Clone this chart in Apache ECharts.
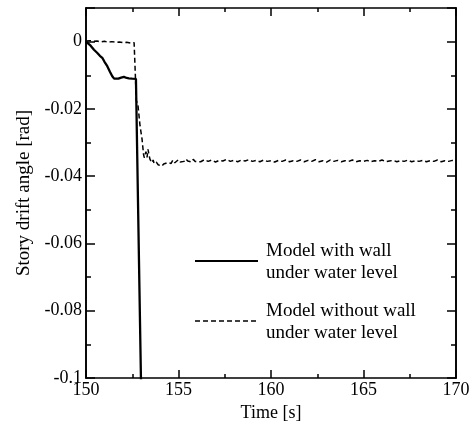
<!DOCTYPE html>
<html>
<head>
<meta charset="utf-8">
<script src="https://cdn.jsdelivr.net/npm/echarts@6/dist/echarts.min.js"></script>
<style>
html,body{margin:0;padding:0;background:#fff;}
#chart{width:476px;height:424px;}
</style>
</head>
<body>
<div id="chart"></div>
<script>
// ---- Data ----
var xTicks = [150, 155, 160, 165, 170];
var yTicks = [-0.1, -0.08, -0.06, -0.04, -0.02, 0];

// Model with wall under water level (solid)
var withWallTime  = [150.0, 150.1, 150.25, 150.43, 150.6, 150.75, 150.88, 151.0, 151.15, 151.3, 151.42, 151.52, 151.61, 151.75, 151.9, 152.05, 152.2, 152.32, 152.5, 152.7, 152.97, 152.99];
var withWallAngle = [0, -0.0003, -0.0012, -0.0024, -0.0033, -0.0042, -0.0048, -0.0060, -0.0073, -0.0090, -0.0103, -0.0110, -0.0112, -0.0110, -0.0107, -0.0105, -0.0108, -0.0109, -0.0110, -0.0111, -0.1, -0.104];

// Model without wall under water level (dashed)
var withoutWallTime = [
 150.0, 150.2, 150.4, 150.6, 150.8, 151.0, 151.2, 151.4, 151.6, 151.8, 152.0, 152.2, 152.4, 152.6, 152.7,
 152.72, 152.81, 152.92, 153.03, 153.11, 153.15, 153.19, 153.24, 153.30, 153.35, 153.41, 153.46, 153.52, 153.57, 153.63, 153.68,
 153.8, 153.9, 154.0, 154.1, 154.2, 154.3, 154.4, 154.5, 154.6, 154.7, 154.8, 154.9, 155.0, 155.1, 155.2, 155.3, 155.4, 155.5, 155.6, 155.7, 155.8, 155.9, 156.0,
 156.2, 156.4, 156.6, 156.8, 157.0, 157.2, 157.4, 157.6, 157.8, 158.0, 158.2, 158.4, 158.6, 158.8, 159.0, 159.2, 159.4, 159.6, 159.8, 160.0,
 160.2, 160.4, 160.6, 160.8, 161.0, 161.2, 161.4, 161.6, 161.8, 162.0, 162.2, 162.4, 162.6, 162.8, 163.0, 163.2, 163.4, 163.6, 163.8, 164.0,
 164.2, 164.4, 164.6, 164.8, 165.0, 165.2, 165.4, 165.6, 165.8, 166.0, 166.2, 166.4, 166.6, 166.8, 167.0, 167.2, 167.4, 167.6, 167.8, 168.0,
 168.2, 168.4, 168.6, 168.8, 169.0, 169.2, 169.4, 169.6, 169.8, 170.0
];
var withoutWallAngle = [
 0.0002, 0.0003, 0.0001, 0.0002, -0.0001, 0.0001, -0.0002, 0.0000, -0.0002, -0.0001, -0.0003, -0.0002, -0.0004, -0.0003, -0.0005,
 -0.0175, -0.0190, -0.0250, -0.0290, -0.0335, -0.0345, -0.0350, -0.0327, -0.0344, -0.0320, -0.0338, -0.0350, -0.0345, -0.0360, -0.0352, -0.0362,
 -0.0358, -0.0366, -0.0362, -0.0370, -0.0364, -0.0368, -0.0360, -0.0355, -0.0362, -0.0352, -0.0360, -0.0357, -0.0351, -0.0358, -0.0353, -0.0356, -0.0349, -0.0355, -0.0352, -0.0358, -0.0350, -0.0356, -0.0353,
 -0.0357, -0.0351, -0.0356, -0.0352, -0.0358, -0.0353, -0.0355, -0.0350, -0.0356, -0.0353, -0.0357, -0.0352, -0.0355, -0.0351, -0.0356, -0.0353, -0.0357, -0.0352, -0.0356, -0.0354,
 -0.0358, -0.0353, -0.0356, -0.0352, -0.0357, -0.0354, -0.0356, -0.0352, -0.0357, -0.0353, -0.0356, -0.0351, -0.0357, -0.0354, -0.0358, -0.0352, -0.0356, -0.0353, -0.0357, -0.0354,
 -0.0356, -0.0352, -0.0357, -0.0354, -0.0356, -0.0353, -0.0357, -0.0354, -0.0356, -0.0352, -0.0357, -0.0355, -0.0353, -0.0357, -0.0354, -0.0356, -0.0352, -0.0357, -0.0354, -0.0356,
 -0.0353, -0.0357, -0.0354, -0.0356, -0.0352, -0.0357, -0.0354, -0.0356, -0.0353, -0.0356
];

var legendNames = ['Model with wall\nunder water level', 'Model without wall\nunder water level'];
var xName = 'Time [s]';
var yName = 'Story drift angle [rad]';

// ---- Build ----
function pairs(t, v) { return t.map(function (x, i) { return [x, v[i]]; }); }

var FONT = 'Liberation Serif';
var chart = echarts.init(document.getElementById('chart'), null, { renderer: 'canvas' });

function xAx(pos, showLabel) {
  return {
    type: 'value', position: pos, min: xTicks[0], max: xTicks[xTicks.length - 1],
    interval: xTicks[1] - xTicks[0],
    axisLine: { show: true, onZero: false, lineStyle: { color: '#000', width: 1.6 } },
    axisTick: { show: true, inside: true, length: 8, lineStyle: { color: '#000', width: 1.5 } },
    minorTick: { show: true, splitNumber: 2, length: 4, lineStyle: { color: '#000', width: 1.5 } },
    splitLine: { show: false },
    axisLabel: { show: showLabel, color: '#000', fontFamily: FONT, fontSize: 18, margin: 3 },
    name: showLabel ? xName : '', nameLocation: 'middle', nameGap: 24,
    nameTextStyle: { color: '#000', fontFamily: FONT, fontSize: 18 }
  };
}
function yAx(pos, step, len, showLabel) {
  return {
    type: 'value', position: pos, min: yTicks[0], max: 0.01, interval: step,
    axisLine: { show: true, onZero: false, lineStyle: { color: '#000', width: 1.6 } },
    axisTick: { show: true, inside: true, length: len, lineStyle: { color: '#000', width: 1.5 } },
    splitLine: { show: false },
    axisLabel: {
      show: showLabel, color: '#000', fontFamily: FONT, fontSize: 18, margin: 4,
      formatter: function (v) {
        if (v > 0.005) return '';
        if (Math.abs(v) < 1e-9) return '0';
        return String(Number(v.toFixed(2)));
      }
    },
    name: showLabel ? yName : '', nameLocation: 'middle', nameGap: 51, nameRotate: 90,
    nameTextStyle: { color: '#000', fontFamily: FONT, fontSize: 19 }
  };
}

var option = {
  animation: false,
  backgroundColor: '#fff',
  grid: { left: 86, right: 20, top: 8, bottom: 46, containLabel: false, outerBoundsMode: 'none' },
  xAxis: [xAx('bottom', true), xAx('top', false)],
  yAxis: [
    yAx('left', 0.02, 9, true),
    yAx('left', 0.01, 5, false),
    yAx('right', 0.02, 9, false),
    yAx('right', 0.01, 5, false)
  ],
  series: [
    {
      name: legendNames[0], type: 'line', xAxisIndex: 0, yAxisIndex: 0,
      data: pairs(withWallTime, withWallAngle), showSymbol: false, symbol: 'none', clip: true,
      lineStyle: { color: '#000', width: 2.3 }
    },
    {
      name: legendNames[1], type: 'line', xAxisIndex: 0, yAxisIndex: 0,
      data: pairs(withoutWallTime, withoutWallAngle), showSymbol: false, symbol: 'none', clip: true,
      lineStyle: { color: '#000', width: 1.5, type: [5, 3] }
    }
  ],
  graphic: [
    { type: 'line', shape: { x1: 195, y1: 261, x2: 258, y2: 261 }, style: { stroke: '#000', lineWidth: 2 } },
    { type: 'text', left: 266, top: 240, style: { text: legendNames[0], fill: '#000', font: '19px "Liberation Serif"', lineHeight: 22 } },
    { type: 'line', shape: { x1: 195, y1: 321, x2: 258, y2: 321 }, style: { stroke: '#000', lineWidth: 1.3, lineDash: [5, 3] } },
    { type: 'text', left: 266, top: 300, style: { text: legendNames[1], fill: '#000', font: '19px "Liberation Serif"', lineHeight: 22 } }
  ]
};
chart.setOption(option);
</script>
</body>
</html>
